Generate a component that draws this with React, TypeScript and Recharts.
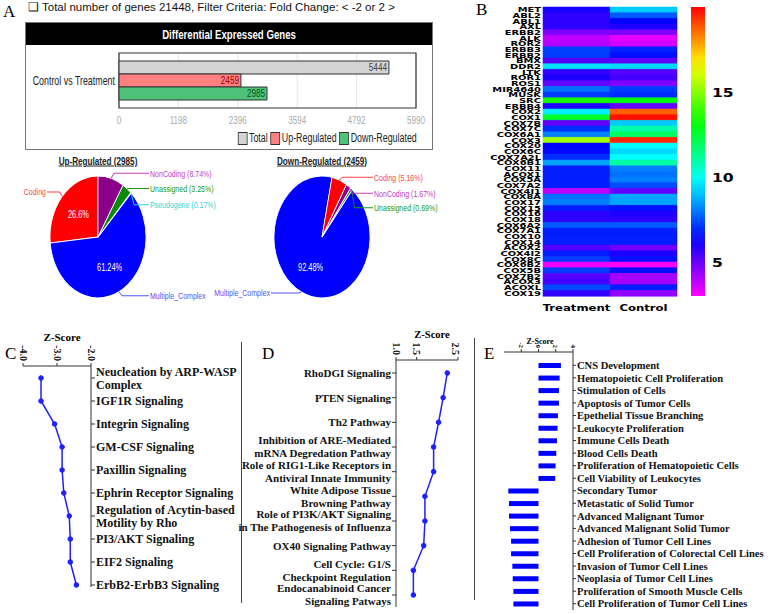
import React from 'react'
import {
  BarChart,
  Bar,
  XAxis,
  YAxis,
  CartesianGrid,
  LabelList,
  ReferenceArea,
  PieChart,
  Pie,
  Cell,
  LineChart,
  Line,
} from 'recharts'

// ---------- Panel A: differential expression counts ----------
const comparisons = ['Control vs Treatment']
const totalGenes = [5444]
const upRegulated = [2459]
const downRegulated = [2985]
const countTicks = [0, 1198, 2396, 3594, 4792, 5990]

const upPieNames = ['Coding', 'Multiple_Complex', 'Pseudogene', 'Unassigned', 'NonCoding']
const upPiePercents = [26.6, 61.24, 0.17, 3.25, 8.74]
const downPieNames = ['Multiple_Complex', 'Unassigned', 'NonCoding', 'Coding']
const downPiePercents = [92.48, 0.69, 1.67, 5.16]

// ---------- Panel B: heatmap ----------
const genes = [
  'MET', 'ABL2', 'ABL1', 'AXL', 'ERBB2', 'ALK', 'ROR2', 'ERBB3', 'ERBB2', 'BMX',
  'DDR2', 'LTK', 'ROR1', 'ROS1', 'MIR4640', 'MUSK', 'SRC', 'ERBB4', 'COX2', 'COX1',
  'COX7B', 'COX7C', 'COX6A1', 'COX3', 'COX20', 'COX6C', 'COX7A2L', 'COX6B1', 'COX11', 'ACOX1',
  'COX5A', 'COX7A2', 'COX4I1', 'COX8A', 'COX17', 'COX15', 'COX16', 'COX18', 'COX6A2', 'COX7A1',
  'COX10', 'COX14', 'ACOX2', 'COX4I2', 'COX8C', 'COX6B2', 'COX5B', 'COX7B2', 'ACOX3', 'ACOXL',
  'COX19',
]
const treatmentExpr = [
  6.1, 5.8, 5.8, 5.8, 4.7, 3.85, 4.0, 7.25, 7.2, 5.3,
  9.4, 5.8, 6.0, 5.1, 7.9, 7.2, 13.5, 6.0, 9.6, 12.6,
  5.1, 7.0, 8.1, 15.35, 6.4, 6.5, 7.0, 8.55, 6.8, 6.8,
  6.8, 6.8, 3.85, 7.9, 8.1, 6.8, 5.8, 5.8, 7.6, 6.8,
  6.8, 6.8, 5.3, 6.8, 7.2, 3.2, 7.2, 5.3, 5.5, 7.4,
  5.8,
]
const controlExpr = [
  9.1, 7.6, 6.4, 6.0, 4.7, 3.3, 3.6, 6.85, 6.6, 5.1,
  9.3, 5.3, 5.5, 4.7, 7.2, 7.0, 13.0, 5.1, 18.7, 19.8,
  9.1, 10.9, 11.9, 19.5, 9.8, 9.3, 9.8, 11.0, 8.1, 7.9,
  8.1, 7.4, 5.1, 8.6, 8.6, 6.6, 6.0, 5.8, 7.6, 6.8,
  6.8, 6.8, 4.9, 6.0, 6.6, 3.0, 6.6, 4.2, 4.2, 6.8,
  4.5,
]
const heatColumns = ['Treatment', 'Control']
const colorScaleRange = [3, 20]
const colorTicks = [5, 10, 15]

// ---------- Panel C ----------
const pathwaysC = [
  'Neucleation by ARP-WASP\nComplex',
  'IGF1R Signaling',
  'Integrin Signaling',
  'GM-CSF Signaling',
  'Paxillin Signaling',
  'Ephrin Receptor Signaling',
  'Regulation of Acytin-based\nMotility by Rho',
  'PI3/AKT Signaling',
  'EIF2 Signaling',
  'ErbB2-ErbB3 Signaling',
]
const zScoresC = [-3.47, -3.47, -3.07, -2.85, -2.85, -2.8, -2.64, -2.61, -2.61, -2.43]
const ticksC = [-4, -3.5, -3, -2.5, -2]

// ---------- Panel D ----------
const pathwaysD = [
  'RhoDGI Signaling',
  'PTEN Signaling',
  'Th2 Pathway',
  'Inhibition of ARE-Mediated\nmRNA Degredation Pathway',
  'Role of RIG1-Like Receptors in\nAntiviral Innate Immunity',
  'White Adipose Tissue\nBrowning Pathway',
  'Role of PI3K/AKT Signaling\nin The Pathogenesis of Influenza',
  'OX40 Signaling Pathway',
  'Cell Cycle: G1/S\nCheckpoint Regulation',
  'Endocanabinoid Cancer\nSignaling Patways',
]
const zScoresD = [2.24, 2.14, 2.03, 1.91, 1.91, 1.7, 1.7, 1.67, 1.42, 1.42]
const ticksD = [1, 1.5, 2, 2.5]

// ---------- Panel E ----------
const functionsE = [
  'CNS Development',
  'Hematopoietic Cell Proliferation',
  'Stimulation of Cells',
  'Apoptosis of Tumor Cells',
  'Epethelial Tissue Branching',
  'Leukocyte Proliferation',
  'Immune Cells Death',
  'Blood Cells Death',
  'Proliferation of Hematopoietic Cells',
  'Cell Viability of Leukocytes',
  'Secondary Tumor',
  'Metastatic of Solid Tumor',
  'Advanced Malignant Tumor',
  'Advanced Malignant Solid Tumor',
  'Adhesion of Tumor Cell Lines',
  'Cell Proliferation of Colorectal Cell Lines',
  'Invasion of Tumor Cell Lines',
  'Neoplasia of Tumor Cell Lines',
  'Proliferation of Smooth Muscle Cells',
  'Cell Proliferation of Tumor Cell Lines',
]
const zScoresE = [2.6, 2.45, 2.37, 2.37, 2.25, 2.21, 2.14, 2.06, 1.98, 1.94, -3.5, -3.42, -3.42, -3.3, -3.18, -3.18, -3.03, -2.99, -2.91, -2.91]
const ticksE = [-4, -2, 0, 2, 4]

// ---------- styles ----------
const serif = "'Liberation Serif', 'Times New Roman', serif"
const sans = "'Liberation Sans', Arial, sans-serif"
const wide = "'DejaVu Sans', Arial, sans-serif"
const SQUEEZE = 0.74 // panel A text is horizontally compressed in the figure
const lineBlue = '#1f1fff'

const deSeries = [
  { key: 'total', name: 'Total', fill: '#d4d4d4', text: '#444' },
  { key: 'up', name: 'Up-Regulated', fill: '#ff8080', text: '#a00000' },
  { key: 'down', name: 'Down-Regulated', fill: '#4fc27a', text: '#0b4d1f' },
]

const sliceFill: Record<string, string> = {
  Coding: '#ff0000',
  Multiple_Complex: '#0000ff',
  Pseudogene: '#00e0e0',
  Unassigned: '#0a8a0a',
  NonCoding: '#8b008b',
}
const sliceText: Record<string, string> = {
  Coding: '#ff4444',
  Multiple_Complex: '#5555ff',
  Pseudogene: '#33d6d6',
  Unassigned: '#169a16',
  NonCoding: '#c040c0',
}

// heat colour: hue runs red (high) -> magenta (low)
const heatColor = (v: number) => {
  const t = Math.min(1, Math.max(0, (colorScaleRange[1] - v) / (colorScaleRange[1] - colorScaleRange[0])))
  return `hsl(${t * 300}, 100%, 50%)`
}

const deData = comparisons.map((name, i) => ({
  name,
  total: totalGenes[i],
  up: upRegulated[i],
  down: downRegulated[i],
}))
const upPieData = upPieNames.map((name, i) => ({ name, value: upPiePercents[i] }))
const downPieData = downPieNames.map((name, i) => ({ name, value: downPiePercents[i] }))
const heatData = genes.map((gene, i) => ({ gene, treatment: treatmentExpr[i], control: controlExpr[i] }))
const colorBarData = [{ name: 'scale', range: colorScaleRange }]
const cData = pathwaysC.map((name, i) => ({ name, z: zScoresC[i] }))
const dData = pathwaysD.map((name, i) => ({ name, z: zScoresD[i] }))
const eData = functionsE.map((name, i) => ({ name, z: zScoresE[i] }))

function Txt({ x, y, anchor = 'start', sx = 1, style, children }: any) {
  const tx =
    anchor === 'middle' ? 'translate(-50%, -50%)' : anchor === 'end' ? 'translate(-100%, -50%)' : 'translateY(-50%)'
  const origin = anchor === 'middle' ? 'center' : anchor === 'end' ? 'right center' : 'left center'
  return (
    <div
      style={{
        position: 'absolute',
        left: x,
        top: y,
        transform: `${tx} scaleX(${sx})`,
        transformOrigin: origin,
        whiteSpace: 'nowrap',
        lineHeight: 1,
        ...style,
      }}
    >
      {children}
    </div>
  )
}

// pies are drawn round and squashed by CSS into the ellipses of the figure
const PIE_SQUASH = 1.27
const PIE_CY = 82

function makePieLabel(nudge: Record<string, number>) {
  return (p: any) => {
    const RAD = Math.PI / 180
    const cos = Math.cos(-p.midAngle * RAD)
    const sin = Math.sin(-p.midAngle * RAD)
    const r = p.outerRadius
    const ex = p.cx + r * cos
    const ey = p.cy + r * sin
    const right = cos >= 0
    const ly = ey + (nudge[p.name] ?? 0) / PIE_SQUASH
    const tx = right ? p.cx + r + 4 : p.cx - r - 4
    const color = sliceText[p.name]
    const big = p.value > 20
    const ix = p.cx + r * 0.55 * cos
    const iy = p.cy + r * 0.55 * sin
    const unsquash = `scale(${SQUEEZE}, ${1 / PIE_SQUASH})`
    return (
      <g>
        <polyline
          points={`${ex},${ey} ${ex + (right ? 3 : -3)},${ly} ${tx + (right ? -1 : 1)},${ly}`}
          fill="none"
          stroke={color}
          strokeWidth={0.8}
        />
        <text
          transform={`translate(${tx},${ly}) ${unsquash}`}
          textAnchor={right ? 'start' : 'end'}
          dy="0.35em"
          fill={color}
          fontSize={9.5}
          fontFamily={sans}
        >
          {big ? p.name : `${p.name} (${p.value}%)`}
        </text>
        {big && (
          <text
            transform={`translate(${ix},${iy}) ${unsquash}`}
            textAnchor="middle"
            dy="0.35em"
            fill="#fff"
            fontSize={10}
            fontFamily={sans}
          >
            {p.value}%
          </text>
        )}
      </g>
    )
  }
}

function PathwayTick(p: any) {
  const lines = String(p.payload.value).split('\n')
  const top = p.y - ((lines.length - 1) * p.gap) / 2
  return (
    <text x={p.x} y={top} textAnchor={p.textAnchor} fontFamily={serif} fontWeight={700} fontSize={p.size} fill="#111">
      {lines.map((l, i) => (
        <tspan key={i} x={p.x} y={top + i * p.gap} dy="0.35em">
          {l}
        </tspan>
      ))}
    </text>
  )
}

function RotTick(p: any) {
  return (
    <text
      transform={`translate(${p.x},${p.y}) rotate(90)`}
      textAnchor="end"
      dy="0.35em"
      fontFamily={serif}
      fontWeight={700}
      fontSize={p.size}
      fill="#111"
    >
      {Number(p.payload.value).toFixed(p.digits)}
    </text>
  )
}

function WideTick(p: any) {
  return (
    <text
      transform={`translate(${p.x},${p.y}) scale(${p.stretch},1)`}
      textAnchor={p.anchor}
      dy={p.dy}
      fontFamily={p.family ?? wide}
      fontWeight={p.weight ?? 700}
      fontSize={p.size}
      fill={p.color ?? '#000'}
    >
      {p.label ?? p.payload.value}
    </text>
  )
}

function BarValueLabel(p: any) {
  const { x, y, width, height, value, color } = p
  return (
    <text
      transform={`translate(${x + width - 2},${y + height / 2}) scale(${SQUEEZE},1)`}
      textAnchor="end"
      dy="0.36em"
      fontFamily={sans}
      fontSize={11}
      fill={color}
    >
      {value}
    </text>
  )
}

export default function App() {
  return (
    <div
      style={{
        position: 'absolute',
        left: 0,
        top: 0,
        width: 770,
        height: 614,
        background: '#fff',
        overflow: 'hidden',
        fontFamily: serif,
      }}
    >
      {/* panel letters */}
      <Txt x={3} y={11} style={{ fontSize: 17 }}>A</Txt>
      <Txt x={476} y={9} style={{ fontSize: 17 }}>B</Txt>
      <Txt x={5} y={353} style={{ fontSize: 17 }}>C</Txt>
      <Txt x={262} y={353} style={{ fontSize: 17 }}>D</Txt>
      <Txt x={484} y={353} style={{ fontSize: 17 }}>E</Txt>

      {/* ---- A: bar chart box ---- */}
      <Txt x={28} y={8} style={{ fontFamily: sans, fontSize: 11.5, color: '#111' }}>
        ❑ Total number of genes 21448, Filter Criteria: Fold Change: &lt; -2 or 2 &gt;
      </Txt>
      <div
        style={{
          position: 'absolute',
          left: 25,
          top: 22,
          width: 408,
          height: 128,
          border: '1px solid #777',
          boxSizing: 'border-box',
        }}
      >
        <div style={{ position: 'relative', height: 22, background: '#000' }}>
          <Txt x={203} y={11} anchor="middle" sx={SQUEEZE} style={{ color: '#fff', fontFamily: sans, fontSize: 13, fontWeight: 700 }}>
            Differential Expressed Genes
          </Txt>
        </div>
        <BarChart
          width={406}
          height={104}
          layout="vertical"
          data={deData}
          margin={{ top: 8, right: 16, bottom: 21, left: 0 }}
          barCategoryGap={8}
          barGap={0}
        >
          <CartesianGrid horizontal={false} stroke="#e6e6e6" />
          <XAxis
            type="number"
            domain={[0, 5990]}
            ticks={countTicks}
            height={20}
            axisLine={false}
            tickLine={false}
            tick={(p: any) => (
              <WideTick {...p} anchor="middle" dy="0.71em" size={11} stretch={SQUEEZE} family={sans} weight={400} color="#aaa" />
            )}
          />
          <YAxis
            type="category"
            dataKey="name"
            width={93}
            axisLine={false}
            tickLine={false}
            tickSize={0}
            tickMargin={4}
            tick={(p: any) => (
              <WideTick {...p} anchor="end" dy="0.36em" size={12} stretch={SQUEEZE} family={sans} weight={400} color="#222" />
            )}
          />
          {deSeries.map((s) => (
            <Bar key={s.key} dataKey={s.key} name={s.name} fill={s.fill} stroke="#333" strokeWidth={1} isAnimationActive={false}>
              <LabelList dataKey={s.key} content={(p: any) => <BarValueLabel {...p} color={s.text} />} />
            </Bar>
          ))}
          <ReferenceArea x1={0} x2={5990} fill="none" stroke="#333" strokeWidth={1.2} ifOverflow="visible" />
        </BarChart>
        <div
          style={{
            position: 'absolute',
            right: 15,
            top: 108,
            display: 'flex',
            alignItems: 'center',
            fontFamily: sans,
            fontSize: 12,
            color: '#222',
            transform: `scaleX(${SQUEEZE})`,
            transformOrigin: 'right center',
            whiteSpace: 'nowrap',
          }}
        >
          {deSeries.map((s) => (
            <span key={s.key} style={{ display: 'flex', alignItems: 'center', marginLeft: 4 }}>
              <span
                style={{ width: 11, height: 11, background: s.fill, border: '1px solid #333', marginRight: 2, display: 'inline-block' }}
              />
              {s.name}
            </span>
          ))}
        </div>
      </div>

      {/* ---- A: pies ---- */}
      <Txt x={98} y={161} anchor="middle" sx={SQUEEZE} style={{ fontFamily: sans, fontSize: 11, fontWeight: 700, textDecoration: 'underline', color: '#222' }}>
        Up-Regulated (2985)
      </Txt>
      <Txt x={322} y={161} anchor="middle" sx={SQUEEZE} style={{ fontFamily: sans, fontSize: 11, fontWeight: 700, textDecoration: 'underline', color: '#222' }}>
        Down-Regulated (2459)
      </Txt>
      <div
        style={{
          position: 'absolute',
          left: 0,
          top: 155,
          width: 460,
          height: 170,
          transform: `scaleY(${PIE_SQUASH})`,
          transformOrigin: `0px ${PIE_CY}px`,
        }}
      >
        <PieChart width={460} height={170} margin={{ top: 0, right: 0, bottom: 0, left: 0 }}>
          <Pie
            data={upPieData}
            dataKey="value"
            nameKey="name"
            cx={98}
            cy={PIE_CY}
            outerRadius={48}
            startAngle={90}
            endAngle={450}
            stroke="#fff"
            strokeWidth={0.8}
            labelLine={false}
            label={makePieLabel({ Coding: -4, NonCoding: -5, Unassigned: 0, Pseudogene: 12, Multiple_Complex: 4 })}
            isAnimationActive={false}
          >
            {upPieData.map((d) => (
              <Cell key={d.name} fill={sliceFill[d.name]} />
            ))}
          </Pie>
          <Pie
            data={downPieData}
            dataKey="value"
            nameKey="name"
            cx={322}
            cy={PIE_CY}
            outerRadius={48}
            startAngle={78}
            endAngle={438}
            stroke="#fff"
            strokeWidth={0.8}
            labelLine={false}
            label={makePieLabel({ Coding: -3, NonCoding: 7, Unassigned: 19, Multiple_Complex: 1 })}
            isAnimationActive={false}
          >
            {downPieData.map((d) => (
              <Cell key={d.name} fill={sliceFill[d.name]} />
            ))}
          </Pie>
        </PieChart>
      </div>

      {/* ---- B: heatmap ---- */}
      <div style={{ position: 'absolute', left: 400, top: 0 }}>
        <BarChart
          width={290}
          height={320}
          layout="vertical"
          data={heatData}
          margin={{ top: 7, right: 13, bottom: 6, left: 0 }}
          barCategoryGap={0}
        >
          <XAxis
            type="number"
            domain={[0, 2]}
            ticks={[0.5, 1.5]}
            height={18}
            axisLine={false}
            tickLine={false}
            tick={(p: any) => (
              <WideTick {...p} anchor="middle" dy="0.71em" size={9.5} stretch={1.23} label={heatColumns[Math.floor(p.payload.value)]} />
            )}
          />
          <YAxis
            type="category"
            dataKey="gene"
            width={143}
            interval={0}
            axisLine={false}
            tickLine={false}
            tickSize={0}
            tickMargin={2}
            tick={(p: any) => <WideTick {...p} anchor="end" dy="0.36em" size={6.6} stretch={1.5} />}
          />
          <Bar dataKey={() => 1} stackId="heat" isAnimationActive={false}>
            {heatData.map((d, i) => (
              <Cell key={i} fill={heatColor(d.treatment)} stroke={heatColor(d.treatment)} strokeWidth={0.5} />
            ))}
          </Bar>
          <Bar dataKey={() => 1} stackId="heat" isAnimationActive={false}>
            {heatData.map((d, i) => (
              <Cell key={i} fill={heatColor(d.control)} stroke={heatColor(d.control)} strokeWidth={0.5} />
            ))}
          </Bar>
        </BarChart>
      </div>

      {/* ---- B: colour scale ---- */}
      <div style={{ position: 'absolute', left: 685, top: 0 }}>
        <BarChart width={85} height={320} data={colorBarData} margin={{ top: 7, right: 0, bottom: 24, left: 6 }} barCategoryGap={0}>
          <defs>
            <linearGradient id="heatGradient" x1="0" y1="0" x2="0" y2="1">
              {Array.from({ length: 18 }, (_, i) => {
                const v = colorScaleRange[1] - (i / 17) * (colorScaleRange[1] - colorScaleRange[0])
                return <stop key={i} offset={`${(i / 17) * 100}%`} stopColor={heatColor(v)} />
              })}
            </linearGradient>
          </defs>
          <XAxis dataKey="name" hide />
          <YAxis
            type="number"
            orientation="right"
            domain={colorScaleRange}
            ticks={colorTicks}
            width={65}
            axisLine={false}
            tickLine={false}
            tickSize={0}
            tickMargin={7}
            tick={(p: any) => <WideTick {...p} anchor="start" dy="0.36em" size={13} stretch={1.2} />}
          />
          <Bar dataKey="range" fill="url(#heatGradient)" isAnimationActive={false} />
        </BarChart>
      </div>

      {/* separators */}
      <div style={{ position: 'absolute', left: 241, top: 342, width: 1, height: 261, background: '#444' }} />
      <div style={{ position: 'absolute', left: 474, top: 338, width: 1, height: 262, background: '#444' }} />

      {/* ---- C ---- */}
      <Txt x={62} y={337} anchor="middle" style={{ fontSize: 11, fontWeight: 700 }}>Z-Score</Txt>
      <div style={{ position: 'absolute', left: 0, top: 310 }}>
        <LineChart layout="vertical" width={250} height={300} data={cData} margin={{ top: 32, right: 0, bottom: 23, left: 23 }}>
          <XAxis
            type="number"
            orientation="top"
            domain={[-4, -2]}
            ticks={ticksC}
            height={24}
            tickSize={3}
            tickMargin={2}
            stroke="#333"
            tick={(p: any) => <RotTick {...p} size={10} digits={1} />}
          />
          <YAxis
            type="category"
            dataKey="name"
            orientation="right"
            width={159}
            interval={0}
            scale="point"
            padding={{ top: 12, bottom: 2 }}
            tickSize={4}
            tickMargin={1}
            stroke="#333"
            tick={(p: any) => <PathwayTick {...p} size={12} gap={13} />}
          />
          <Line
            dataKey="z"
            stroke={lineBlue}
            strokeWidth={1.5}
            dot={{ r: 2.3, fill: lineBlue, stroke: lineBlue, strokeWidth: 1 }}
            isAnimationActive={false}
          />
        </LineChart>
      </div>

      {/* ---- D ---- */}
      <Txt x={432} y={335} anchor="middle" style={{ fontSize: 10.5, fontWeight: 700 }}>Z-Score</Txt>
      <div style={{ position: 'absolute', left: 225, top: 310 }}>
        <LineChart layout="vertical" width={240} height={300} data={dData} margin={{ top: 28, right: 7, bottom: 3, left: 0 }}>
          <XAxis
            type="number"
            orientation="top"
            domain={[1, 2.5]}
            ticks={ticksD}
            height={22}
            tickSize={3}
            tickMargin={2}
            stroke="#333"
            tick={(p: any) => <RotTick {...p} size={10} digits={1} />}
          />
          <YAxis
            type="category"
            dataKey="name"
            width={171}
            interval={0}
            scale="point"
            padding={{ top: 13, bottom: 12 }}
            tickSize={4}
            tickMargin={1}
            stroke="#333"
            tick={(p: any) => <PathwayTick {...p} size={11} gap={13} />}
          />
          <Line
            dataKey="z"
            stroke={lineBlue}
            strokeWidth={1.5}
            dot={{ r: 2.3, fill: lineBlue, stroke: lineBlue, strokeWidth: 1 }}
            isAnimationActive={false}
          />
        </LineChart>
      </div>

      {/* ---- E ---- */}
      <Txt x={540} y={342} anchor="middle" style={{ fontSize: 8, fontWeight: 700 }}>Z-Score</Txt>
      <div style={{ position: 'absolute', left: 495, top: 310 }}>
        <BarChart layout="vertical" width={275} height={304} data={eData} margin={{ top: 22, right: 0, bottom: 4, left: 9 }}>
          <XAxis
            type="number"
            orientation="top"
            domain={[-4, 4]}
            ticks={ticksE}
            height={20}
            tickSize={3}
            tickMargin={1}
            stroke="#333"
            tick={(p: any) => <RotTick {...p} size={7} digits={0} />}
          />
          <YAxis
            type="category"
            dataKey="name"
            orientation="right"
            width={197}
            interval={0}
            padding={{ top: 7, bottom: 0 }}
            tickSize={3}
            tickMargin={1}
            stroke="#333"
            tick={(p: any) => <PathwayTick {...p} size={10.5} gap={12} />}
          />
          <Bar dataKey="z" fill="#0000ff" barSize={5} isAnimationActive={false} />
        </BarChart>
      </div>
    </div>
  )
}
